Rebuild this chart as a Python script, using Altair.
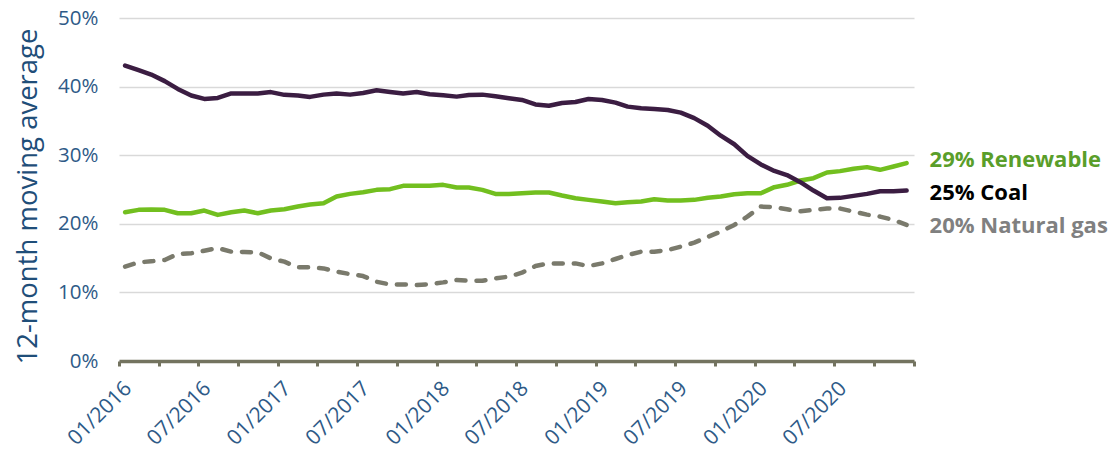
import altair as alt
import pandas as pd

# Monthly 12-month moving average shares (%), 01/2016 .. 12/2020 (plotted mid-month)
dates = [d.strftime("%Y-%m-15") for d in pd.date_range("2016-01-01", periods=60, freq="MS")]

coal = [43.07, 42.4, 41.75, 40.8, 39.66, 38.7, 38.2, 38.35, 39.0, 39.0, 39.0, 39.2,
        38.8, 38.7, 38.5, 38.83, 38.98, 38.83, 39.07, 39.46, 39.22, 38.98, 39.22, 38.88,
        38.73, 38.54, 38.78, 38.83, 38.59, 38.3, 38.05, 37.4, 37.2, 37.6, 37.76, 38.2,
        38.05, 37.66, 37.08, 36.83, 36.74, 36.6, 36.2, 35.4, 34.3, 32.84, 31.6, 29.9,
        28.65, 27.7, 27.1, 26.07, 24.85, 23.73, 23.78, 24.07, 24.36, 24.75, 24.75, 24.85]

renewable = [21.69, 22.03, 22.07, 22.03, 21.54, 21.54, 21.93, 21.3, 21.69, 21.93, 21.54, 21.93,
             22.12, 22.51, 22.8, 23.0, 23.97, 24.36, 24.6, 24.95, 25.05, 25.53, 25.53, 25.53,
             25.68, 25.29, 25.29, 24.95, 24.36, 24.36, 24.46, 24.56, 24.56, 24.12, 23.73, 23.49,
             23.24, 23.0, 23.15, 23.24, 23.58, 23.39, 23.39, 23.49, 23.8, 23.97, 24.32, 24.46,
             24.46, 25.34, 25.68, 26.31, 26.65, 27.48, 27.68, 28.02, 28.26, 27.87, 28.36, 28.85]

gas = [13.75, 14.38, 14.53, 14.72, 15.6, 15.7, 16.08, 16.47, 15.94, 15.89, 15.84, 14.96,
       14.48, 13.65, 13.65, 13.5, 13.02, 12.67, 12.38, 11.55, 11.16, 11.16, 11.07, 11.21,
       11.46, 11.8, 11.7, 11.7, 12.04, 12.3, 12.87, 13.84, 14.23, 14.23, 14.23, 13.84,
       14.23, 14.87, 15.45, 15.94, 15.94, 16.18, 16.67, 17.25, 18.1, 18.86, 19.83, 21.05,
       22.51, 22.42, 22.12, 21.83, 22.03, 22.22, 22.22, 21.78, 21.34, 21.05, 20.56, 19.83]

series_names = ["Natural gas", "Renewable", "Coal"]
series_values = [gas, renewable, coal]
line_colors = ["#7a7a6c", "#72bf1f", "#3b1d42"]
text_colors = ["#808080", "#5a9e2a", "#000000"]
label_dy = [1, -3, 2.5]

FONT = "Open Sans"
AXIS_TEXT = "#2e5a87"

x_ticks = [alt.DateTime(year=y, month=m, date=1, utc=True)
           for y in range(2016, 2022) for m in (1, 4, 7, 10) if not (y == 2021 and m > 1)]

x_enc = alt.X(
    "date:T",
    scale=alt.Scale(type="utc",
                    domain=[alt.DateTime(year=2016, month=1, date=1, utc=True),
                            alt.DateTime(year=2021, month=1, date=1, utc=True)]),
    axis=alt.Axis(
        values=x_ticks,
        labelExpr="(utcmonth(datum.value) == 0 || utcmonth(datum.value) == 6) && utcyear(datum.value) < 2021 ? utcFormat(datum.value, '%m/%Y') : ''",
        labelAngle=-45, labelAlign="right", labelBaseline="middle",
        labelPadding=19, labelOffset=9,
        labelFont=FONT, labelFontSize=21, labelColor=AXIS_TEXT,
        domainColor="#73735f", domainWidth=3.5,
        tickColor="#73735f", tickWidth=3, tickSize=5,
        grid=False, title=None, labelOverlap=False,
    ),
)
y_enc = alt.Y(
    "value:Q",
    scale=alt.Scale(domain=[0, 50], nice=False),
    axis=alt.Axis(
        values=[0, 10, 20, 30, 40, 50],
        labelExpr="datum.value + '%'",
        labelFont=FONT, labelFontSize=20.5, labelColor=AXIS_TEXT, labelPadding=21,
        domain=False, ticks=False,
        grid=True, gridColor="#d9d9d9", gridWidth=1.5,
        title="12-month moving average",
        titleFont=FONT, titleFontSize=27.5, titleFontWeight="normal", titleColor="#1f4e79",
        titleX=-91, titleY=178, titleAlign="center", titleBaseline="middle", titleAngle=-90,
    ),
)

layers = []
for name, vals, col in zip(series_names, series_values, line_colors):
    df = pd.DataFrame({"date": dates, "value": vals})
    mk = dict(color=col, strokeWidth=4.5, strokeCap="round", strokeJoin="round")
    if name == "Natural gas":
        mk["strokeDash"] = [9, 11]
    layers.append(alt.Chart(df).mark_line(**mk).encode(x=x_enc, y=y_enc))

for name, vals, col, dy in zip(series_names, series_values, text_colors, label_dy):
    ldf = pd.DataFrame({"date": [dates[-1]], "value": [vals[-1]],
                        "label": [f"{round(vals[-1])}% {name}"]})
    layers.append(
        alt.Chart(ldf).mark_text(align="left", baseline="middle", dx=23, dy=dy,
                                 font=FONT, fontSize=22, fontWeight="bold", color=col)
        .encode(x=x_enc, y=y_enc, text="label:N")
    )

chart = (
    alt.layer(*layers)
    .properties(width=795, height=343,
                padding={"left": 119, "top": 18, "right": 196, "bottom": 91},
                autosize=alt.AutoSizeParams(type="none"),
                background="white")
    .configure_view(strokeWidth=0)
)

chart.save("out.html", embed_options={"renderer": "svg", "actions": False})
